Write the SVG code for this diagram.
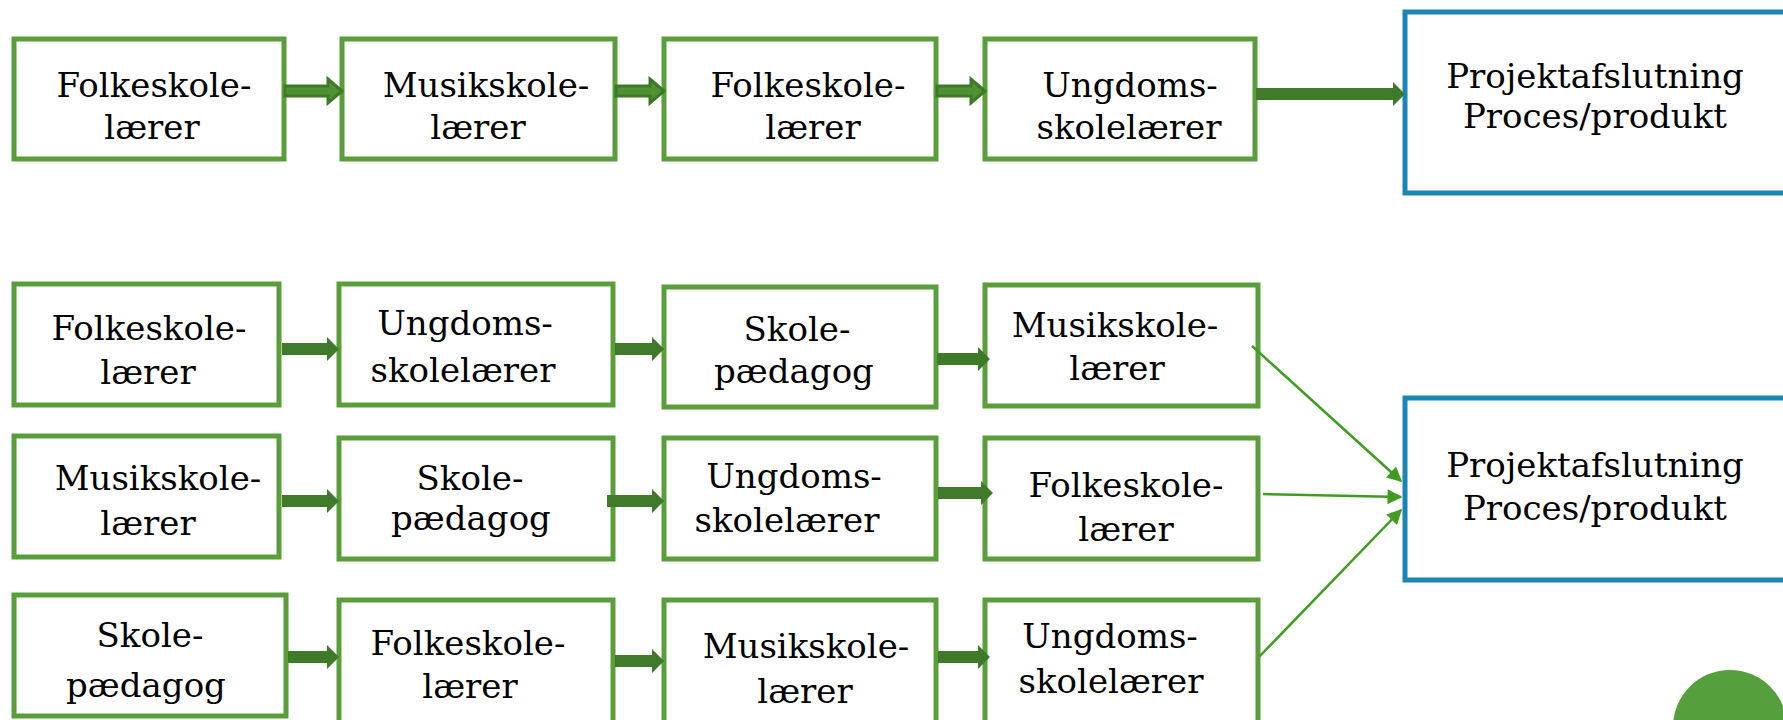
<svg xmlns="http://www.w3.org/2000/svg" width="1783" height="720" viewBox="0 0 1783 720">
<defs>
<style>
.g{fill:#fff;stroke:#5a9e3c;stroke-width:5}
.b{fill:#fff;stroke:#1b86b4;stroke-width:5}
.t{font-family:"DejaVu Serif",serif;font-size:34px;fill:#000;text-anchor:middle}
.ba{fill:#4f9234;stroke:#3d7a28;stroke-width:3}
.bs{fill:#3f7a2a}
.thin{stroke:#3f9c21;stroke-width:2.5;fill:none;marker-end:url(#ah)}
</style>
<marker id="ah" viewBox="0 0 10 10" refX="9" refY="5" markerWidth="7" markerHeight="6" orient="auto" markerUnits="strokeWidth">
<path d="M0,0 L10,5 L0,10 z" fill="#3f9c21"/>
</marker>
</defs>
<rect width="1783" height="720" fill="#fff"/>
<circle cx="1730" cy="727" r="57" fill="#55a03c"/>

<g id="r1n1"><rect class="g" x="14" y="39" width="270" height="120"/><text class="t" x="154" y="97">Folkeskole-</text><text class="t" x="152" y="139">lærer</text></g>
<g id="r1n2"><rect class="g" x="342" y="39" width="273" height="120"/><text class="t" x="486" y="97">Musikskole-</text><text class="t" x="478" y="139">lærer</text></g>
<g id="r1n3"><rect class="g" x="664" y="39" width="272" height="120"/><text class="t" x="808" y="97">Folkeskole-</text><text class="t" x="813" y="139">lærer</text></g>
<g id="r1n4"><rect class="g" x="985" y="39" width="270" height="120"/><text class="t" x="1130" y="97">Ungdoms-</text><text class="t" x="1129" y="139">skolelærer</text></g>
<g id="end1"><rect class="b" x="1405" y="12" width="385" height="181"/><text class="t" x="1595" y="88">Projektafslutning</text><text class="t" x="1595" y="128">Proces/produkt</text></g>

<g id="r2n1"><rect class="g" x="14" y="284" width="265" height="121"/><text class="t" x="149" y="340">Folkeskole-</text><text class="t" x="148" y="384">lærer</text></g>
<g id="r2n2"><rect class="g" x="339" y="284" width="274" height="121"/><text class="t" x="465" y="335">Ungdoms-</text><text class="t" x="463" y="382">skolelærer</text></g>
<g id="r2n3"><rect class="g" x="664" y="287" width="272" height="120"/><text class="t" x="797" y="341">Skole-</text><text class="t" x="794" y="383">pædagog</text></g>
<g id="r2n4"><rect class="g" x="985" y="285" width="273" height="121"/><text class="t" x="1115" y="337">Musikskole-</text><text class="t" x="1117" y="380">lærer</text></g>

<g id="r3n1"><rect class="g" x="14" y="436" width="265" height="121"/><text class="t" x="158" y="490">Musikskole-</text><text class="t" x="148" y="535">lærer</text></g>
<g id="r3n2"><rect class="g" x="339" y="438" width="274" height="121"/><text class="t" x="470" y="490">Skole-</text><text class="t" x="471" y="530">pædagog</text></g>
<g id="r3n3"><rect class="g" x="664" y="438" width="272" height="121"/><text class="t" x="794" y="488">Ungdoms-</text><text class="t" x="787" y="532">skolelærer</text></g>
<g id="r3n4"><rect class="g" x="985" y="438" width="273" height="121"/><text class="t" x="1126" y="497">Folkeskole-</text><text class="t" x="1126" y="541">lærer</text></g>
<g id="end2"><rect class="b" x="1405" y="398" width="385" height="182"/><text class="t" x="1595" y="477">Projektafslutning</text><text class="t" x="1595" y="520">Proces/produkt</text></g>

<g id="r4n1"><rect class="g" x="14" y="595" width="272" height="121"/><text class="t" x="150" y="647">Skole-</text><text class="t" x="146" y="697">pædagog</text></g>
<g id="r4n2"><rect class="g" x="339" y="600" width="274" height="124"/><text class="t" x="468" y="655">Folkeskole-</text><text class="t" x="470" y="698">lærer</text></g>
<g id="r4n3"><rect class="g" x="664" y="600" width="272" height="124"/><text class="t" x="806" y="658">Musikskole-</text><text class="t" x="805" y="703">lærer</text></g>
<g id="r4n4"><rect class="g" x="985" y="600" width="273" height="124"/><text class="t" x="1110" y="648">Ungdoms-</text><text class="t" x="1111" y="693">skolelærer</text></g>

<g id="connectors">
<polygon class="ba" points="285,86 328,86 328,79 342,91 328,103 328,96 285,96"/>
<polygon class="ba" points="616,86 650,86 650,79 664,91 650,103 650,96 616,96"/>
<polygon class="ba" points="937,86 971,86 971,79 985,91 971,103 971,96 937,96"/>
<polygon class="bs" points="1256,88 1393,88 1393,82 1405,94 1393,106 1393,100 1256,100"/>

<polygon class="bs" points="282,343 327,343 327,337 339,349 327,361 327,355 282,355"/>
<polygon class="bs" points="615,343 652,343 652,337 664,349 652,361 652,355 615,355"/>
<polygon class="bs" points="937,353 978,353 978,347 990,359 978,371 978,365 937,365"/>

<polygon class="bs" points="282,495 327,495 327,489 339,501 327,513 327,507 282,507"/>
<polygon class="bs" points="607,495 652,495 652,489 664,501 652,513 652,507 607,507"/>
<polygon class="bs" points="938,487 981,487 981,481 993,493 981,505 981,499 938,499"/>

<polygon class="bs" points="288,651 327,651 327,645 339,657 327,669 327,663 288,663"/>
<polygon class="bs" points="615,655 652,655 652,649 664,661 652,673 652,667 615,667"/>
<polygon class="bs" points="938,651 978,651 978,645 990,657 978,669 978,663 938,663"/>

<line class="thin" x1="1252" y1="346" x2="1401" y2="481"/>
<line class="thin" x1="1263" y1="494" x2="1401" y2="497"/>
<line class="thin" x1="1259" y1="657" x2="1401" y2="510"/>
</g>
</svg>
